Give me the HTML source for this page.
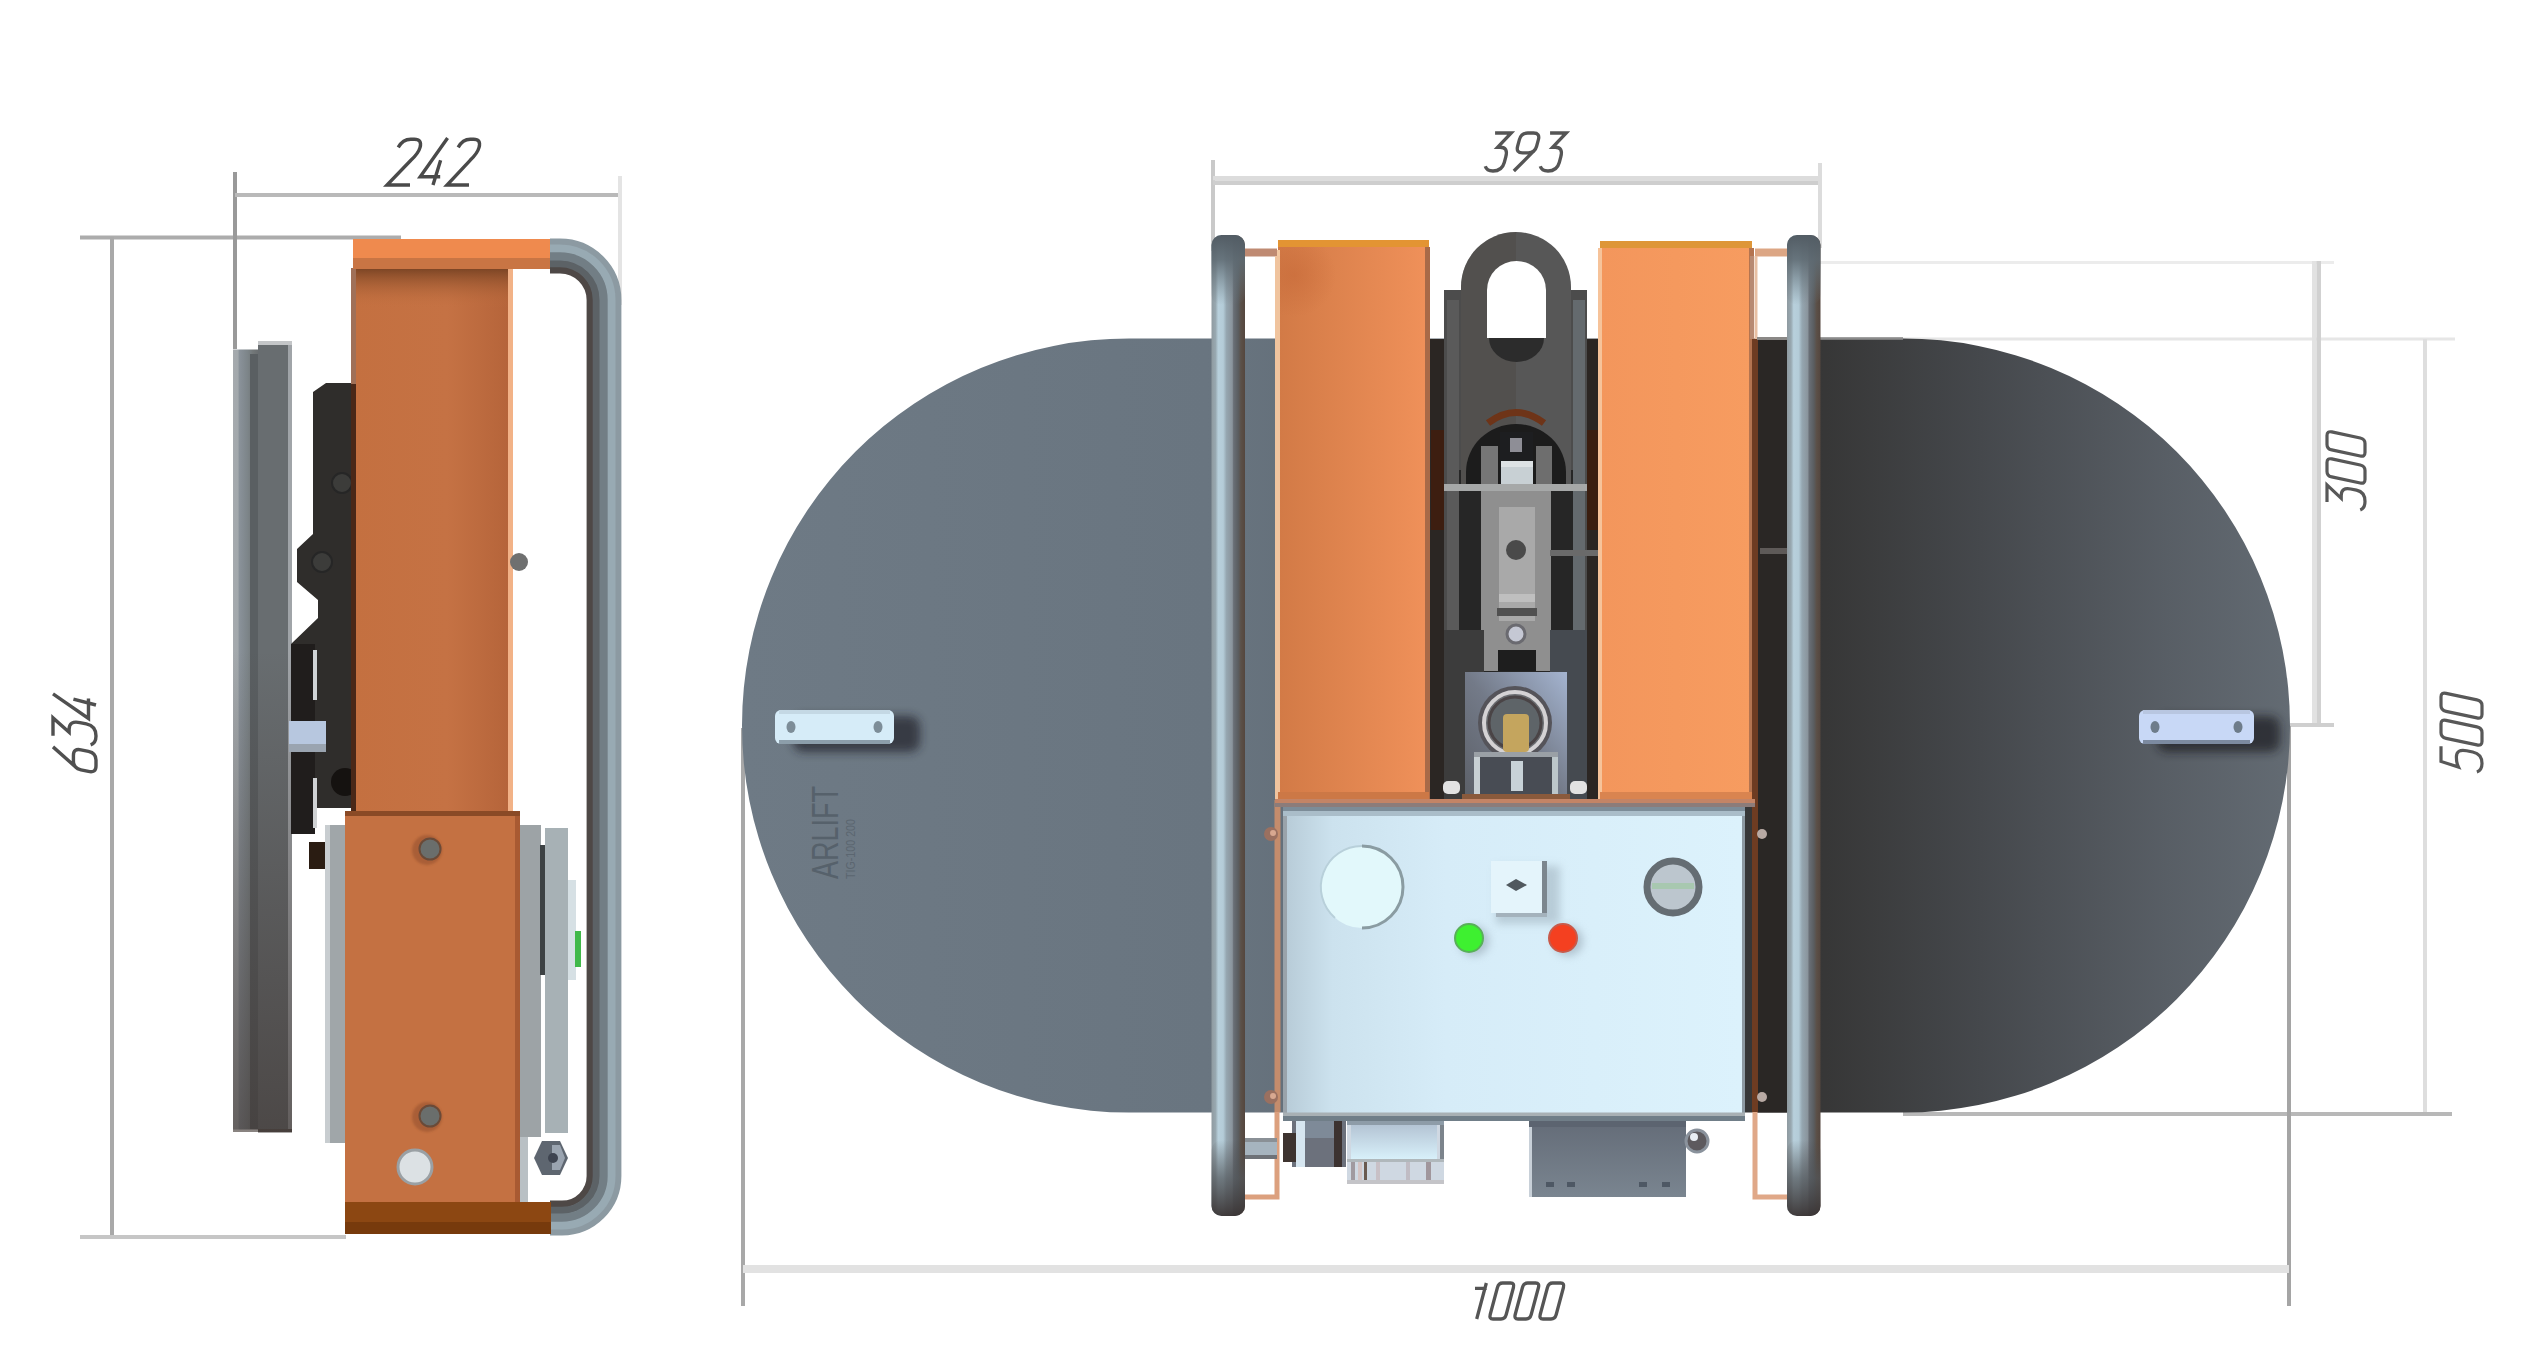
<!DOCTYPE html>
<html><head><meta charset="utf-8"><title>Vacuum lifter drawing</title>
<style>html,body{margin:0;padding:0;background:#ffffff;overflow:hidden;font-family:"Liberation Sans",sans-serif}svg{display:block}</style></head>
<body><svg width="2522" height="1371" viewBox="0 0 2522 1371">
<rect width="2522" height="1371" fill="#ffffff"/>
<defs>
<linearGradient id="tubeV" x1="0" x2="1" y1="0" y2="0">
 <stop offset="0" stop-color="#8f9aa0"/><stop offset="0.12" stop-color="#98a8b0"/><stop offset="0.2" stop-color="#b8d0dc"/><stop offset="0.35" stop-color="#b4ccd8"/>
 <stop offset="0.45" stop-color="#95a6b0"/><stop offset="0.62" stop-color="#8a949c"/><stop offset="0.66" stop-color="#696f76"/>
 <stop offset="0.8" stop-color="#5a5d60"/><stop offset="0.88" stop-color="#5b5048"/><stop offset="1" stop-color="#54463e"/></linearGradient>
<linearGradient id="sidePlateL" x1="0" x2="1" y1="0" y2="0">
 <stop offset="0" stop-color="#a6aaae"/><stop offset="0.2" stop-color="#a2a8ac"/><stop offset="0.25" stop-color="#8a929a"/><stop offset="0.6" stop-color="#7c8488"/><stop offset="0.8" stop-color="#727778"/><stop offset="1" stop-color="#6a6e70"/></linearGradient>
<linearGradient id="plateShade" x1="0" x2="0" y1="0" y2="1">
 <stop offset="0" stop-color="#3a302c" stop-opacity="0"/><stop offset="0.5" stop-color="#3a302c" stop-opacity="0.3"/><stop offset="1" stop-color="#3a302c" stop-opacity="0.6"/></linearGradient>
<linearGradient id="tubeBot" x1="0" x2="0" y1="0" y2="1">
 <stop offset="0" stop-color="#4a4a4c" stop-opacity="0"/><stop offset="0.5" stop-color="#505458" stop-opacity="0.7"/><stop offset="1" stop-color="#3a3434" stop-opacity="0.95"/></linearGradient>
<linearGradient id="tubeCap" x1="0" x2="0" y1="0" y2="1">
 <stop offset="0" stop-color="#525c64"/><stop offset="0.35" stop-color="#5e6a72" stop-opacity="0.9"/><stop offset="1" stop-color="#6a7880" stop-opacity="0"/></linearGradient>
<linearGradient id="tubeS" gradientUnits="userSpaceOnUse" x1="586" x2="621" y1="0" y2="0">
 <stop offset="0" stop-color="#4a4341"/><stop offset="0.3" stop-color="#5b6266"/><stop offset="0.6" stop-color="#7f8e96"/>
 <stop offset="0.8" stop-color="#a8bac3"/><stop offset="1" stop-color="#8d9ca4"/></linearGradient>
<linearGradient id="plateG" gradientUnits="userSpaceOnUse" x1="742" x2="2290" y1="0" y2="0">
 <stop offset="0" stop-color="#6e7a85"/><stop offset="0.30" stop-color="#697580"/><stop offset="0.45" stop-color="#5d6872"/>
 <stop offset="0.66" stop-color="#353535"/><stop offset="0.70" stop-color="#373737"/>
 <stop offset="0.80" stop-color="#45484c"/><stop offset="0.92" stop-color="#585e65"/><stop offset="1" stop-color="#636b73"/></linearGradient>
<linearGradient id="colL" x1="0" x2="1" y1="0" y2="0">
 <stop offset="0" stop-color="#d27a46"/><stop offset="1" stop-color="#f0915a"/></linearGradient>
<linearGradient id="colR" x1="0" x2="1" y1="0" y2="0">
 <stop offset="0" stop-color="#f3965c"/><stop offset="1" stop-color="#f79c60"/></linearGradient>
<linearGradient id="sideCol" x1="0" x2="1" y1="0" y2="0">
 <stop offset="0" stop-color="#c47040"/><stop offset="0.6" stop-color="#c57244"/><stop offset="1" stop-color="#b5643a"/></linearGradient>
<linearGradient id="sideTopSh" x1="0" x2="0" y1="0" y2="1">
 <stop offset="0" stop-color="#7a4424"/><stop offset="1" stop-color="#c47040" stop-opacity="0"/></linearGradient>
<linearGradient id="boxG" x1="0" x2="1" y1="0" y2="0">
 <stop offset="0" stop-color="#b8ccd8"/><stop offset="0.1" stop-color="#cce2ee"/><stop offset="0.35" stop-color="#d6ecf8"/><stop offset="1" stop-color="#dcf2fc"/></linearGradient>
<radialGradient id="spotL" cx="0.2" cy="0.4" r="0.6"><stop offset="0" stop-color="#c46636" stop-opacity="0.5"/><stop offset="1" stop-color="#c46636" stop-opacity="0"/></radialGradient>
<linearGradient id="valveG" x1="0" y1="1" x2="1" y2="0">
 <stop offset="0" stop-color="#5c6068"/><stop offset="0.5" stop-color="#737a88"/><stop offset="1" stop-color="#a4b4d0"/></linearGradient>
<linearGradient id="connG" x1="0" x2="0" y1="0" y2="1">
 <stop offset="0" stop-color="#b4c4d4"/><stop offset="1" stop-color="#d8f0fa"/></linearGradient>
<linearGradient id="blockG" x1="0" x2="0" y1="0" y2="1">
 <stop offset="0" stop-color="#646c78"/><stop offset="1" stop-color="#7a8590"/></linearGradient>
<clipPath id="plateClip"><path d="M1129,338.5 L1903,338.5 A387,387 0 0 1 1903,1112.5 L1129,1112.5 A387,387 0 0 1 1129,338.5 Z"/></clipPath>
<filter id="blur2" x="-50%" y="-50%" width="200%" height="200%"><feGaussianBlur stdDeviation="5"/></filter>
<filter id="blur3" x="-30%" y="-30%" width="160%" height="160%"><feGaussianBlur stdDeviation="4"/></filter>
<filter id="blur1"><feGaussianBlur stdDeviation="1"/></filter>
</defs>
<g stroke-width="4" fill="none">
<line x1="80" y1="237.5" x2="401" y2="237.5" stroke="#acacac"/>
<line x1="112" y1="237" x2="112" y2="1237" stroke="#a9a9a9"/>
<line x1="80" y1="1237" x2="346" y2="1237" stroke="#c6c6c6"/>
<line x1="235" y1="172" x2="235" y2="349" stroke="#999"/>
<line x1="235" y1="195" x2="622" y2="195" stroke="#b9b9b9"/>
<line x1="620" y1="176" x2="620" y2="305" stroke="#e4e4e4"/>
</g>
<g fill="none" stroke="#4a4a4a" stroke-width="3.4" stroke-linecap="butt" stroke-linejoin="miter"><g transform="translate(387,138)"><g transform="matrix(1,0,-0.2679,1,12.59,0)"><path d="M1,8 Q3,1 10,1 L13,1 Q20,1 20,8 Q20,13 15,19 L0,40 L20,40" transform="translate(0.00,0) scale(1.1500,1.1750)" vector-effect="non-scaling-stroke"/><path d="M17,0 L0,33 L20,33 M16,19 L15,40" transform="translate(31.00,0) scale(1.0000,1.1750)" vector-effect="non-scaling-stroke"/><path d="M1,8 Q3,1 10,1 L13,1 Q20,1 20,8 Q20,13 15,19 L0,40 L20,40" transform="translate(60.00,0) scale(1.1000,1.1750)" vector-effect="non-scaling-stroke"/></g></g></g>
<g fill="none" stroke="#505050" stroke-width="3.4" stroke-linecap="butt" stroke-linejoin="miter"><g transform="translate(53,773) rotate(-90)"><g transform="matrix(1,0,-0.2126,1,9.14,0)"><path d="M17,0 L1,22 M0,26 Q0,19 7,19 L13,19 Q20,19 20,26 L20,33 Q20,40 13,40 L7,40 Q0,40 0,33 Z" transform="translate(0.00,0) scale(1.0000,1.0750)" vector-effect="non-scaling-stroke"/><path d="M1,0 L19,0 L8,15 L11,15 Q20,15 20,25 L20,31 Q20,40 10,40 Q3,40 0,35" transform="translate(27.00,0) scale(1.0000,1.0750)" vector-effect="non-scaling-stroke"/><path d="M17,0 L0,33 L20,33 M16,19 L15,40" transform="translate(53.00,0) scale(1.0000,1.0750)" vector-effect="non-scaling-stroke"/></g></g></g>
<rect x="233" y="349.5" width="25" height="780" fill="url(#sidePlateL)"/>
<rect x="250" y="354" width="8" height="775" fill="#5a5f62"/>
<rect x="258" y="341" width="34" height="791" fill="#686d70"/>
<rect x="258" y="341" width="34" height="4" fill="#c4c6c8"/>
<rect x="288" y="345" width="4" height="787" fill="#a0a4a8"/>
<rect x="258" y="1129" width="34" height="3.5" fill="#5a5654"/>
<rect x="233" y="650" width="59" height="482" fill="url(#plateShade)"/>
<path d="M313,392 L326,383 L356,383 L356,808 L313,808 L313,644 L291,644 L318,618 L318,600 L297,582 L297,549 L313,534 Z" fill="#2f2d2b"/>
<rect x="291" y="644" width="24" height="190" fill="#201d1c"/>
<rect x="313" y="650" width="4" height="50" fill="#cfd3d6"/><rect x="313" y="778" width="4" height="50" fill="#d0d2d4"/>
<rect x="289" y="721" width="37" height="31" fill="#b7c7df"/>
<rect x="289" y="744" width="37" height="8" fill="#9aa4b0"/>
<circle cx="342" cy="483" r="10" fill="#3c3c3a" stroke="#262626" stroke-width="2"/>
<circle cx="322" cy="562" r="10" fill="#3c3c3a" stroke="#262626" stroke-width="2"/>
<circle cx="345" cy="782" r="14" fill="#151210"/>
<rect x="353" y="239" width="157" height="572" fill="url(#sideCol)"/>
<rect x="353" y="268" width="157" height="40" fill="url(#sideTopSh)"/>
<rect x="351" y="268" width="5" height="116" fill="#a07058"/><rect x="351" y="384" width="5" height="427" fill="#4a2818"/>
<rect x="508" y="268" width="5" height="543" fill="#f2b287"/>
<rect x="353" y="239" width="197" height="30" fill="#ef8a4e"/>
<rect x="353" y="258" width="197" height="11" fill="#c97544"/>
<circle cx="519" cy="562" r="9" fill="#6f7070"/>
<path d="M550,269.94 L560,269.94 A30.06,30.06 0 0 1 590.06,300 L590.06,1176 A28.06,28.06 0 0 1 562,1204.06 L550,1204.06" fill="none" stroke="#4e4846" stroke-width="6.92"/><path d="M550,263.48 L560,263.48 A36.52,36.52 0 0 1 596.52,300 L596.52,1176 A34.52,34.52 0 0 1 562,1210.52 L550,1210.52" fill="none" stroke="#5c6266" stroke-width="7.60"/><path d="M550,256.00 L560,256.00 A44.00,44.00 0 0 1 604.00,300 L604.00,1176 A42.00,42.00 0 0 1 562,1218.00 L550,1218.00" fill="none" stroke="#727e85" stroke-width="8.96"/><path d="M550,248.01 L560,248.01 A51.99,51.99 0 0 1 611.99,300 L611.99,1176 A49.99,49.99 0 0 1 562,1225.99 L550,1225.99" fill="none" stroke="#98aab3" stroke-width="8.62"/><path d="M550,241.55 L560,241.55 A58.45,58.45 0 0 1 618.45,300 L618.45,1176 A56.45,56.45 0 0 1 562,1232.45 L550,1232.45" fill="none" stroke="#8c9aa2" stroke-width="5.90"/>
<rect x="325" y="825" width="20" height="318" fill="#a0a6a9"/>
<rect x="325" y="825" width="5" height="318" fill="#c8cdd0"/>
<rect x="520" y="825" width="21" height="312" fill="#9da3a6"/>
<rect x="540" y="845" width="5" height="130" fill="#3d4244"/>
<rect x="545" y="828" width="23" height="305" fill="#a7b1b5"/>
<rect x="568" y="880" width="8" height="100" fill="#d6e0e4"/>
<rect x="575" y="931" width="6" height="36" fill="#41b94a"/>
<rect x="345" y="811" width="175" height="391" fill="#c47142"/>
<rect x="345" y="811" width="175" height="5" fill="#8a4a26"/>
<rect x="515" y="816" width="5" height="386" fill="#a85a32"/>
<rect x="345" y="1202" width="206" height="32" fill="#8c4712"/>
<rect x="345" y="1222" width="206" height="12" fill="#773a0c"/>
<rect x="309" y="842" width="16" height="27" fill="#2a1c12"/>
<circle cx="427" cy="850" r="15" fill="#8a4a2a" opacity="0.45" filter="url(#blur1)"/><circle cx="430" cy="849" r="10.5" fill="#6a6e6c" stroke="#6a4a38" stroke-width="2"/>
<circle cx="427" cy="1117" r="15" fill="#8a4a2a" opacity="0.45" filter="url(#blur1)"/><circle cx="430" cy="1116" r="10.5" fill="#6a6e6c" stroke="#6a4a38" stroke-width="2"/>
<circle cx="415" cy="1167" r="17" fill="#dce1e4" stroke="#9aa0a4" stroke-width="3"/>
<path d="M542,1141 L560,1141 L568,1158 L560,1175 L542,1175 L534,1158 Z" fill="#5e6670"/>
<path d="M552,1145 L560,1145 L565,1158 L560,1170 L552,1170 Z" fill="#9aa4b0"/><circle cx="553" cy="1158" r="5" fill="#3e4450"/>
<rect x="520" y="1137" width="8" height="65" fill="#b9c0c4"/>
<g stroke-width="4" fill="none">
<line x1="1213" y1="160" x2="1213" y2="251" stroke="#c9c9c9"/>
<rect x="1213" y="176" width="607" height="4.5" fill="#dcdcdc" stroke="none"/>
<rect x="1213" y="180.5" width="607" height="4.5" fill="#cecece" stroke="none"/>
<line x1="1820" y1="163" x2="1820" y2="248" stroke="#dcdcdc"/>
<line x1="1820" y1="262.5" x2="2334" y2="262.5" stroke="#ececec" stroke-width="3"/>
<line x1="1820" y1="339" x2="2455" y2="339" stroke="#e6e6e6" stroke-width="3"/>
<rect x="2312" y="261" width="4.5" height="464" fill="#e2e2e2" stroke="none"/>
<rect x="2316.5" y="261" width="4.5" height="464" fill="#d1d1d1" stroke="none"/>
<line x1="2290" y1="725" x2="2334" y2="725" stroke="#cfcfcf"/>
<line x1="2425" y1="339" x2="2425" y2="1114" stroke="#dedede"/>
<line x1="1903" y1="1114" x2="2452" y2="1114" stroke="#b8b8b8"/>
<line x1="743" y1="728" x2="743" y2="1306" stroke="#a8a8a8"/>
<line x1="2289" y1="726" x2="2289" y2="1306" stroke="#a5a5a5"/>
<rect x="743" y="1265" width="1546" height="8" fill="#e2e2e2" stroke="none"/>
</g>
<g fill="none" stroke="#555555" stroke-width="3.3" stroke-linecap="butt" stroke-linejoin="miter"><g transform="translate(1484,133)"><g transform="matrix(1,0,-0.2679,1,10.18,0)"><path d="M1,0 L19,0 L8,15 L11,15 Q20,15 20,25 L20,31 Q20,40 10,40 Q3,40 0,35" transform="translate(0.00,0) scale(0.9000,0.9500)" vector-effect="non-scaling-stroke"/><path d="M3,40 L19,18 M20,14 Q20,21 13,21 L7,21 Q0,21 0,14 L0,7 Q0,0 7,0 L13,0 Q20,0 20,7 Z" transform="translate(27.00,0) scale(0.9500,0.9500)" vector-effect="non-scaling-stroke"/><path d="M1,0 L19,0 L8,15 L11,15 Q20,15 20,25 L20,31 Q20,40 10,40 Q3,40 0,35" transform="translate(55.00,0) scale(0.9000,0.9500)" vector-effect="non-scaling-stroke"/></g></g></g>
<g fill="none" stroke="#555555" stroke-width="3.3" stroke-linecap="butt" stroke-linejoin="miter"><g transform="translate(1474,1283)"><g transform="matrix(1,0,-0.2679,1,9.65,0)"><path d="M2,6 L15,6 M13,0 L13,40" transform="translate(-9.00,0) scale(0.9000,0.9000)" vector-effect="non-scaling-stroke"/><path d="M5,0 L15,0 Q20,0 20,5 L20,35 Q20,40 15,40 L5,40 Q0,40 0,35 L0,5 Q0,0 5,0 Z" transform="translate(15.00,0) scale(0.8000,0.9000)" vector-effect="non-scaling-stroke"/><path d="M5,0 L15,0 Q20,0 20,5 L20,35 Q20,40 15,40 L5,40 Q0,40 0,35 L0,5 Q0,0 5,0 Z" transform="translate(40.00,0) scale(0.8000,0.9000)" vector-effect="non-scaling-stroke"/><path d="M5,0 L15,0 Q20,0 20,5 L20,35 Q20,40 15,40 L5,40 Q0,40 0,35 L0,5 Q0,0 5,0 Z" transform="translate(65.00,0) scale(0.8000,0.9000)" vector-effect="non-scaling-stroke"/></g></g></g>
<g fill="none" stroke="#585858" stroke-width="3.2" stroke-linecap="butt" stroke-linejoin="miter"><g transform="translate(2327,511) rotate(-90)"><g transform="matrix(1,0,-0.2126,1,8.08,0)"><path d="M1,0 L19,0 L8,15 L11,15 Q20,15 20,25 L20,31 Q20,40 10,40 Q3,40 0,35" transform="translate(0.00,0) scale(0.9500,0.9500)" vector-effect="non-scaling-stroke"/><path d="M5,0 L15,0 Q20,0 20,5 L20,35 Q20,40 15,40 L5,40 Q0,40 0,35 L0,5 Q0,0 5,0 Z" transform="translate(27.00,0) scale(0.9000,0.9500)" vector-effect="non-scaling-stroke"/><path d="M5,0 L15,0 Q20,0 20,5 L20,35 Q20,40 15,40 L5,40 Q0,40 0,35 L0,5 Q0,0 5,0 Z" transform="translate(54.00,0) scale(0.9000,0.9500)" vector-effect="non-scaling-stroke"/></g></g></g>
<g fill="none" stroke="#585858" stroke-width="3.2" stroke-linecap="butt" stroke-linejoin="miter"><g transform="translate(2441,773) rotate(-90)"><g transform="matrix(1,0,-0.2126,1,8.71,0)"><path d="M19,0 L3,0 L1,17 Q5,15 11,15 Q20,15 20,25 L20,31 Q20,40 10,40 Q3,40 0,35" transform="translate(0.00,0) scale(0.9500,1.0250)" vector-effect="non-scaling-stroke"/><path d="M5,0 L15,0 Q20,0 20,5 L20,35 Q20,40 15,40 L5,40 Q0,40 0,35 L0,5 Q0,0 5,0 Z" transform="translate(27.00,0) scale(0.9000,1.0250)" vector-effect="non-scaling-stroke"/><path d="M5,0 L15,0 Q20,0 20,5 L20,35 Q20,40 15,40 L5,40 Q0,40 0,35 L0,5 Q0,0 5,0 Z" transform="translate(54.00,0) scale(0.9000,1.0250)" vector-effect="non-scaling-stroke"/></g></g></g>
<path d="M1129,338.5 L1903,338.5 A387,387 0 0 1 1903,1112.5 L1129,1112.5 A387,387 0 0 1 1129,338.5 Z" fill="url(#plateG)"/>
<g clip-path="url(#plateClip)"><rect x="793" y="716" width="127" height="36" rx="10" fill="#20242a" opacity="0.7" filter="url(#blur2)"/></g><rect x="775" y="710" width="119" height="34" rx="6" fill="#d6ecf8"/><rect x="779" y="710" width="111" height="4" fill="#c4d8e4"/><rect x="779" y="740" width="111" height="4" fill="#8c9eaa"/><ellipse cx="791" cy="727.0" rx="4.5" ry="6" fill="#7d8d98"/><ellipse cx="878" cy="727.0" rx="4.5" ry="6" fill="#7d8d98"/>
<g clip-path="url(#plateClip)"><rect x="2157" y="716" width="123" height="36" rx="10" fill="#1c1e22" opacity="0.7" filter="url(#blur2)"/></g><rect x="2139" y="710" width="115" height="34" rx="6" fill="#c8d8f6"/><rect x="2143" y="710" width="107" height="4" fill="#b8c6e0"/><rect x="2143" y="740" width="107" height="4" fill="#7c8aa0"/><ellipse cx="2155" cy="727.0" rx="4.5" ry="6" fill="#6e7c8a"/><ellipse cx="2238" cy="727.0" rx="4.5" ry="6" fill="#6e7c8a"/>
<g transform="translate(838,879) rotate(-90)" fill="#56616b" font-family="'Liberation Sans', sans-serif"><text x="0" y="0" font-size="36" textLength="93" lengthAdjust="spacingAndGlyphs">ARLIFT</text></g>
<g transform="translate(855,879) rotate(-90)" fill="#5b6670" font-family="'Liberation Sans', sans-serif"><text x="0" y="0" font-size="12" textLength="60" lengthAdjust="spacingAndGlyphs">TIG-100 200</text></g>
<rect x="1429" y="339" width="171" height="462" fill="#2b2623"/>
<rect x="1431" y="430" width="14" height="100" fill="#3d1e10"/>
<rect x="1587" y="430" width="13" height="100" fill="#3a1e10"/>
<rect x="1444" y="290" width="143" height="511" fill="#4c4c4c"/>
<rect x="1447" y="300" width="12" height="500" fill="#5a5a5a"/>
<rect x="1573" y="300" width="12" height="500" fill="#646a6e"/>
<rect x="1459" y="470" width="114" height="331" fill="#262626"/>
<path d="M1461,287 A55,55 0 0 1 1571,287 L1571,486 L1461,486 Z" fill="#575757"/>
<path d="M1461,287 A55,55 0 0 1 1516,232 L1516,486 L1461,486 Z" fill="#4a4542" opacity="0.4"/>
<path d="M1487,290 A29.5,29 0 0 1 1546,290 L1546,338 L1487,338 Z" fill="#ffffff"/>
<path d="M1489,338 L1544,338 A27.5,24 0 0 1 1489,338 Z" fill="#2c2c2c"/>
<path d="M1466,486 L1466,472 A50,48 0 0 1 1566,472 L1566,486 Z" fill="#1c1c1c"/>
<path d="M1488,423 Q1516,402 1544,423" fill="none" stroke="#6e3418" stroke-width="7"/>
<rect x="1481" y="446" width="17" height="41" fill="#767676"/>
<rect x="1536" y="446" width="16" height="41" fill="#6e6e6e"/>
<rect x="1500" y="432" width="33" height="55" fill="#1d1e20"/>
<rect x="1510" y="438" width="12" height="14" fill="#8e8e96"/>
<rect x="1501" y="461" width="32" height="32" fill="#c8d0d4"/>
<rect x="1501" y="461" width="32" height="6" fill="#dde2e4"/>
<rect x="1444" y="484" width="143" height="7" fill="#a6a8a8"/>
<rect x="1481" y="491" width="70" height="180" fill="#8f8f8f"/>
<rect x="1499" y="507" width="36" height="114" fill="#a9a9a9"/>
<circle cx="1516" cy="550" r="10" fill="#4a4a4a"/>
<rect x="1499" y="594" width="36" height="8" fill="#bfbfbf"/>
<rect x="1497" y="608" width="40" height="8" fill="#505050"/>
<circle cx="1516" cy="634" r="9" fill="#c5c8d4" stroke="#6a6a70" stroke-width="3"/>
<rect x="1498" y="650" width="38" height="21" fill="#1e1e1e"/>
<rect x="1550" y="550" width="50" height="6" fill="#6a6a6a"/>
<rect x="1444" y="630" width="40" height="171" fill="#3c3c3c"/>
<rect x="1550" y="630" width="37" height="171" fill="#454a50"/>
<rect x="1465" y="672" width="102" height="128" fill="url(#valveG)"/>
<circle cx="1515" cy="723" r="37" fill="#55545a"/>
<circle cx="1515" cy="723" r="31" fill="#6a6c70" stroke="#d4d2d4" stroke-width="4"/>
<circle cx="1515" cy="723" r="26" fill="#5e6468" stroke="#4a4446" stroke-width="3"/>
<rect x="1503" y="714" width="26" height="38" rx="4" fill="#c4a55e"/>
<rect x="1474" y="752" width="84" height="42" fill="#484c54"/>
<rect x="1474" y="752" width="6" height="42" fill="#c8d0d4"/>
<rect x="1552" y="752" width="6" height="42" fill="#bcc6ca"/>
<rect x="1474" y="752" width="84" height="5" fill="#9aa0a6"/>
<rect x="1511" y="761" width="12" height="30" fill="#c8d2d8"/>
<rect x="1443" y="781" width="17" height="13" rx="5" fill="#e2e2e2"/><rect x="1570" y="781" width="17" height="13" rx="5" fill="#e2e2e2"/>
<rect x="1462" y="794" width="108" height="5" fill="#8a5a3c"/>
<rect x="1278" y="240" width="151" height="560" fill="url(#colL)"/>
<rect x="1278" y="240" width="151" height="7" fill="#e39433"/>
<rect x="1275" y="250" width="5" height="550" fill="#f2c8a2"/>
<rect x="1425" y="247" width="5" height="553" fill="#a86a48"/>
<rect x="1280" y="247" width="70" height="70" fill="url(#spotL)"/>
<rect x="1600" y="241" width="152" height="560" fill="url(#colR)"/>
<rect x="1600" y="241" width="152" height="7" fill="#de9638"/>
<rect x="1598" y="248" width="4" height="552" fill="#f6c39a"/>
<rect x="1749" y="248" width="5" height="552" fill="#b47450"/>
<rect x="1754" y="339" width="33" height="773.5" fill="#2a2725"/>
<rect x="1760" y="548" width="28" height="6" fill="#5e5a58"/>
<path d="M1245,252.5 L1277,252.5" fill="none" stroke="#bf8a72" stroke-width="8"/>
<path d="M1277.5,256 L1277.5,800" fill="none" stroke="#f0c49e" stroke-width="5"/>
<path d="M1277.5,800 L1277.5,1112" fill="none" stroke="#c48c6c" stroke-width="6"/>
<path d="M1277,1112 L1277,1197 L1245,1197" fill="none" stroke="#dca07e" stroke-width="5"/>
<path d="M1787,252.5 L1755,252.5" fill="none" stroke="#dca684" stroke-width="8"/>
<path d="M1752,256 L1752,339" fill="none" stroke="#b88a72" stroke-width="4"/><path d="M1756,256 L1756,339" fill="none" stroke="#e8c0a4" stroke-width="3"/>
<path d="M1755,339 L1755,1112" fill="none" stroke="#6e3c22" stroke-width="6"/>
<rect x="1757" y="337" width="30" height="3" fill="#8a8886"/><rect x="1820" y="337" width="83" height="3" fill="#8a8a8a" opacity="0.8"/>
<path d="M1755,1112 L1755,1197 L1787,1197" fill="none" stroke="#e0a888" stroke-width="5"/>
<rect x="1278" y="792" width="151" height="7" fill="#cc7846"/>
<rect x="1600" y="792" width="152" height="7" fill="#d98450"/>
<rect x="1275" y="799" width="480" height="4" fill="#c38466"/>
<rect x="1275" y="803" width="480" height="4" fill="#8c7c7a"/>
<rect x="1283" y="807" width="462" height="313" fill="#8d9aa3"/>
<rect x="1287" y="816" width="455" height="298" fill="url(#boxG)"/>
<rect x="1283" y="807" width="462" height="4" fill="#7c8c98"/>
<rect x="1283" y="811" width="462" height="5" fill="#aabdc9"/>
<rect x="1283" y="816" width="4" height="298" fill="#9aa3aa"/>
<circle cx="1271" cy="834" r="7" fill="#9a7060"/><circle cx="1271" cy="1097" r="7" fill="#9a7060"/><circle cx="1273" cy="833" r="3" fill="#d8a890"/><circle cx="1273" cy="1096" r="3" fill="#d8a890"/>
<circle cx="1762" cy="834" r="5" fill="#b8aaa4"/><circle cx="1762" cy="1097" r="5" fill="#b8aaa4"/>
<circle cx="1362" cy="887" r="41" fill="#e2f8fb"/>
<path d="M1362,846 A41,41 0 0 1 1362,928" fill="none" stroke="#8a9ca2" stroke-width="3"/>
<path d="M1362,846 A41,41 0 0 0 1335,918" fill="none" stroke="#b8d0da" stroke-width="2"/>
<rect x="1496" y="866" width="64" height="58" fill="#9eb0bc" opacity="0.55" filter="url(#blur3)"/>
<rect x="1491" y="861" width="51" height="52" fill="#e4f4fb"/>
<rect x="1542" y="861" width="5" height="55" fill="#7c868e"/>
<rect x="1496" y="913" width="51" height="4" fill="#a4b2bc"/>
<path d="M1506,885 L1516,879 L1527,885 L1516,891 Z" fill="#50585e"/>
<circle cx="1673" cy="887" r="26" fill="#bcc6ce" stroke="#656d73" stroke-width="7"/>
<rect x="1652" y="883" width="42" height="6" fill="#a8c8b0"/>
<circle cx="1474" cy="941" r="15" fill="#8898a4" opacity="0.5" filter="url(#blur3)"/>
<circle cx="1568" cy="941" r="15" fill="#8898a4" opacity="0.5" filter="url(#blur3)"/>
<circle cx="1469" cy="938" r="14" fill="#3ef030" stroke="#58b058" stroke-width="2"/>
<circle cx="1563" cy="938" r="14" fill="#f44020" stroke="#c85a4a" stroke-width="2"/>
<rect x="1211.5" y="235" width="33.5" height="981" rx="10" fill="url(#tubeV)"/>
<rect x="1211.5" y="235" width="33.5" height="70" rx="10" fill="url(#tubeCap)"/>
<rect x="1211.5" y="1140" width="33.5" height="76" rx="10" fill="url(#tubeBot)"/>
<rect x="1787" y="235" width="33.5" height="981" rx="10" fill="url(#tubeV)"/>
<rect x="1787" y="235" width="33.5" height="70" rx="10" fill="url(#tubeCap)"/>
<rect x="1787" y="1140" width="33.5" height="76" rx="10" fill="url(#tubeBot)"/>
<rect x="1347" y="1121" width="97" height="63" fill="#cfd8e2"/>
<rect x="1351" y="1125" width="86" height="34" fill="url(#connG)"/>
<rect x="1347" y="1121" width="97" height="4" fill="#8e9ca8"/>
<rect x="1440" y="1125" width="4" height="34" fill="#7c848c"/>
<rect x="1347" y="1159" width="97" height="3" fill="#b0b8bc"/>
<rect x="1351" y="1162" width="4" height="18" fill="#a09aa0"/>
<rect x="1358" y="1162" width="4" height="18" fill="#d4c4c4"/>
<rect x="1364" y="1162" width="3" height="18" fill="#6a5a50"/>
<rect x="1376" y="1162" width="4" height="18" fill="#c8c0c6"/>
<rect x="1406" y="1162" width="4" height="18" fill="#c0bcc4"/>
<rect x="1426" y="1162" width="5" height="18" fill="#a0969c"/>
<rect x="1347" y="1180" width="97" height="4" fill="#c4c4c8"/>
<rect x="1292" y="1121" width="54" height="46" fill="#6c717c"/>
<rect x="1296" y="1121" width="9" height="46" fill="#d6e6f0"/>
<rect x="1305" y="1121" width="29" height="17" fill="#7e8a98"/>
<rect x="1334" y="1121" width="8" height="46" fill="#3c3230"/>
<rect x="1283" y="1133" width="13" height="29" fill="#3e3430"/>
<rect x="1245" y="1138" width="32" height="21" fill="#a6b4bf"/>
<rect x="1245" y="1138" width="32" height="4" fill="#8a9096"/>
<rect x="1245" y="1155" width="32" height="4" fill="#6e7278"/>
<rect x="1529" y="1121" width="157" height="76" fill="url(#blockG)"/>
<rect x="1529" y="1121" width="157" height="6" fill="#5c6470"/>
<rect x="1529" y="1127" width="3" height="70" fill="#c8d0d8"/>
<circle cx="1697" cy="1141" r="11" fill="#5d5a5e" stroke="#8a929c" stroke-width="3"/>
<circle cx="1694" cy="1137" r="4" fill="#e8eef4"/>
<rect x="1546" y="1182" width="8" height="5" fill="#4e5864"/>
<rect x="1567" y="1182" width="8" height="5" fill="#4e5864"/>
<rect x="1639" y="1182" width="8" height="5" fill="#4e5864"/>
<rect x="1662" y="1182" width="8" height="5" fill="#4e5864"/>
<rect x="1283" y="1112.5" width="462" height="3.5" fill="#a8b0b4"/>
<rect x="1283" y="1116" width="462" height="5" fill="#707e88"/>
</svg></body></html>
